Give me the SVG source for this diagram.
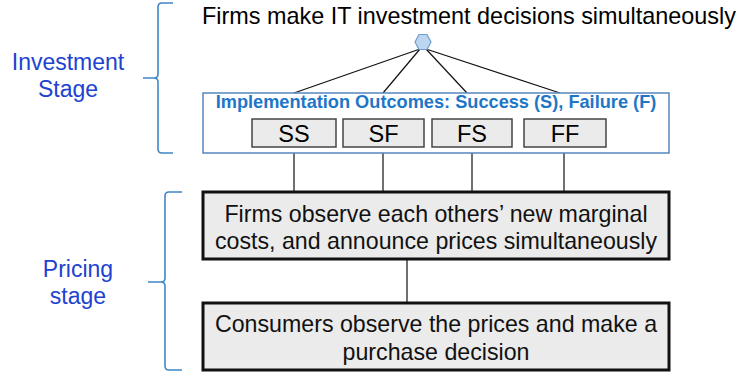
<svg xmlns="http://www.w3.org/2000/svg" width="736" height="377" viewBox="0 0 736 377">
  <style>
    text { font-family: "Liberation Sans", Arial, sans-serif; }
    .stage { font-size: 23px; fill: #2142D0; text-anchor: middle; }
    .brace { fill: none; stroke: #3F86C6; stroke-width: 1.6; }
    .head { font-size: 23.4px; fill: #000; }
    .outcomes { fill: #fff; stroke: #5586BE; stroke-width: 1.5; }
    .otitle { font-size: 18.2px; font-weight: bold; fill: #1E76C8; text-anchor: middle; }
    .cell { fill: #EBEBEB; stroke: #444; stroke-width: 1.5; }
    .cell-t { font-size: 23.5px; fill: #000; text-anchor: middle; }
    .step { fill: #EBEBEB; stroke: #111; stroke-width: 3; }
    .step-t { font-size: 23.2px; fill: #111; text-anchor: middle; }
    .link { stroke: #111; stroke-width: 1.2; fill: none; }
    .hex { fill: #BCD6EF; stroke: #6F9DD0; stroke-width: 1.2; }
  </style>

  <!-- stage labels with braces -->
  <g id="investment-stage">
    <text class="stage" x="68" y="70">Investment</text>
    <text class="stage" x="68" y="97">Stage</text>
    <path class="brace" d="M173,3 L162,3 Q158,3 158,7 L158,74 Q158,78 154,78 L143,78 L154,78 Q158,78 158,82 L158,149 Q158,153 162,153 L173,153"/>
  </g>
  <g id="pricing-stage">
    <text class="stage" x="78" y="277">Pricing</text>
    <text class="stage" x="78" y="304">stage</text>
    <path class="brace" d="M182,192 L169,192 Q165,192 165,196 L165,278 Q165,282 161,282 L148,282 L161,282 Q165,282 165,286 L165,366 Q165,370 169,370 L182,370"/>
  </g>

  <!-- heading -->
  <g id="decision-heading">
    <text class="head" x="202" y="24">Firms make IT investment decisions simultaneously</text>
  </g>

  <!-- connectors -->
  <g id="connectors">
    <line class="link" x1="420" y1="49" x2="294" y2="93"/>
    <line class="link" x1="420" y1="49" x2="383" y2="93"/>
    <line class="link" x1="426" y1="49" x2="467" y2="93"/>
    <line class="link" x1="426" y1="49" x2="560" y2="93"/>
    <line class="link" x1="294" y1="148" x2="294" y2="192"/>
    <line class="link" x1="383" y1="148" x2="383" y2="192"/>
    <line class="link" x1="472" y1="148" x2="472" y2="192"/>
    <line class="link" x1="564" y1="148" x2="564" y2="192"/>
    <line class="link" x1="407" y1="259" x2="407" y2="303"/>
  </g>

  <!-- decision node -->
  <g id="decision-node">
    <polygon class="hex" points="415,42 419,34.5 427,34.5 431,42 427,49.5 419,49.5"/>
  </g>

  <!-- implementation outcomes -->
  <g id="outcomes">
    <rect class="outcomes" x="203" y="93" width="466" height="60"/>
    <text class="otitle" x="436" y="108">Implementation Outcomes: Success (S), Failure (F)</text>
  </g>
  <g id="outcome-ss">
    <rect class="cell" x="252" y="119" width="84" height="28"/>
    <text class="cell-t" x="294" y="142">SS</text>
  </g>
  <g id="outcome-sf">
    <rect class="cell" x="343" y="119" width="81" height="28"/>
    <text class="cell-t" x="383.5" y="142">SF</text>
  </g>
  <g id="outcome-fs">
    <rect class="cell" x="432" y="119" width="80" height="28"/>
    <text class="cell-t" x="472" y="142">FS</text>
  </g>
  <g id="outcome-ff">
    <rect class="cell" x="524" y="119" width="82" height="28"/>
    <text class="cell-t" x="565" y="142">FF</text>
  </g>

  <!-- pricing steps -->
  <g id="announce-prices">
    <rect class="step" x="203" y="192" width="466" height="67"/>
    <text class="step-t" x="436" y="222">Firms observe each others’ new marginal</text>
    <text class="step-t" x="436" y="249">costs, and announce prices simultaneously</text>
  </g>
  <g id="consumer-purchase">
    <rect class="step" x="203" y="303" width="466" height="67"/>
    <text class="step-t" x="436" y="332">Consumers observe the prices and make a</text>
    <text class="step-t" x="436" y="360">purchase decision</text>
  </g>
</svg>
